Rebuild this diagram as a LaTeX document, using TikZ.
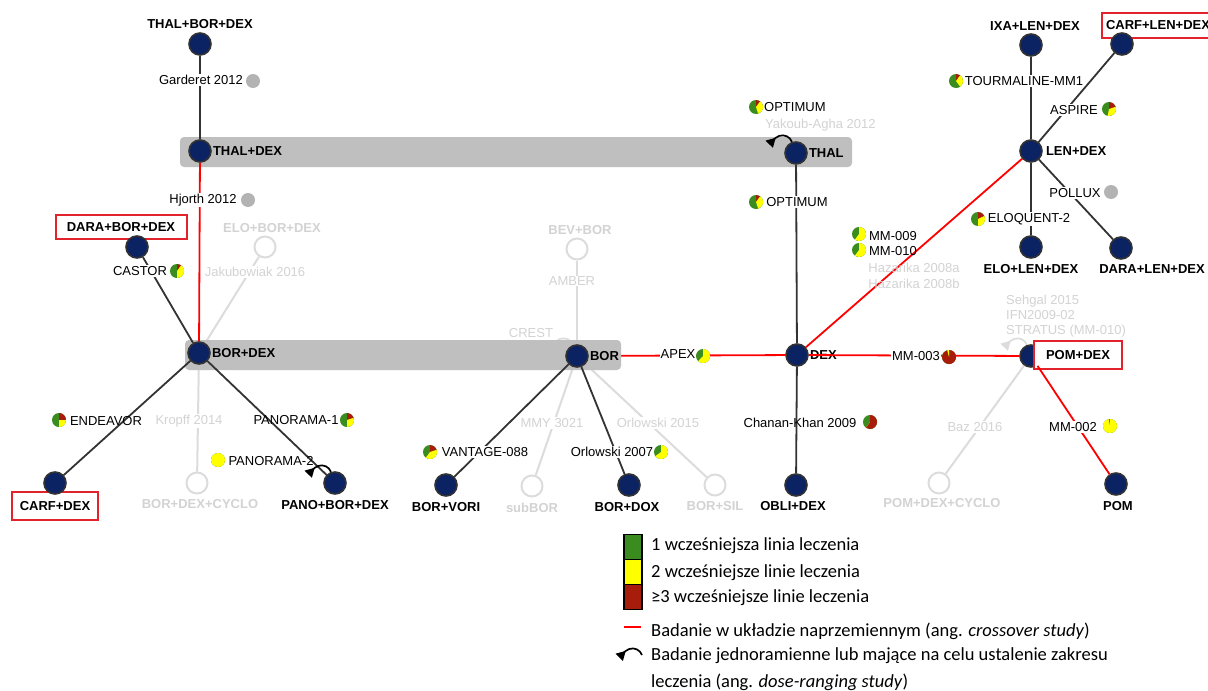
\documentclass[tikz,border=0pt]{standalone}
\usepackage{fontspec}
\setmainfont{Liberation Sans}
\newfontfamily\legendfont{Carlito}
\usetikzlibrary{arrows.meta,positioning,backgrounds}
\definecolor{lvNavy}{HTML}{0B2263}
\definecolor{lvEdge}{HTML}{333333}
\definecolor{lvRed}{HTML}{FF0000}
\definecolor{lvFaint}{HTML}{DCDCDC}
\definecolor{lvFaintText}{HTML}{D3D3D3}
\definecolor{lvBand}{HTML}{BFBFBF}
\definecolor{lvBox}{HTML}{E3232B}
\definecolor{lvGreen}{HTML}{3A8C1E}
\definecolor{lvYellow}{HTML}{FFFF00}
\definecolor{lvDarkRed}{HTML}{A81C0C}
\definecolor{lvDotGray}{HTML}{B3B3B3}
\tikzset{
    regimen/.style={
        circle,
        draw=lvEdge,
        fill=lvNavy,
        line width=1.6pt,
        minimum size=22pt,
        inner sep=0pt
    },
    faintregimen/.style={
        circle,
        draw=lvFaint,
        fill=white,
        line width=2pt,
        minimum size=21pt,
        inner sep=0pt
    },
    reglabel/.style={
        font=\bfseries\fontsize{13}{15}\selectfont,
        inner sep=1pt
    },
    faintlabel/.style={
        reglabel,
        text=lvFaintText
    },
    redbox/.style={
        reglabel,
        draw=lvBox,
        fill=white,
        line width=2pt
    },
    trial/.style={
        font=\fontsize{13}{15}\selectfont,
        fill=white,
        inner sep=1pt
    },
    fainttrial/.style={
        trial,
        text=lvFaintText
    },
    link/.style={
        draw=lvEdge,
        line width=1.8pt
    },
    crosslink/.style={
        draw=lvRed,
        line width=1.8pt
    },
    faintlink/.style={
        draw=lvFaint,
        line width=2pt
    },
    band/.style={
        fill=lvBand,
        rounded corners=4pt
    },
    selfloop/.style={
        -{Triangle[length=9pt,width=10pt]},
        line width=1.7pt
    },
    legendsq/.style={
        draw=black,
        line width=1.5pt,
        minimum width=18pt,
        minimum height=25pt,
        inner sep=0pt
    },
    legendtext/.style={
        font=\legendfont\fontsize{18.5}{27}\selectfont,
        anchor=west,
        inner sep=0pt,
        align=left
    }
}
% study pie: centre, share of >=3 lines (red), share of 2 lines (yellow), rest green
\newcommand{\studypie}[3]{%
    \fill[lvGreen] (#1) circle[radius=7pt];
    \fill[lvDarkRed] (#1) -- ++(90:7pt) arc[start angle=90, delta angle={-360*#2}, radius=7pt] -- cycle;
    \fill[lvYellow] (#1) -- ++({90-360*#2}:7pt) arc[start angle={90-360*#2}, delta angle={-360*#3}, radius=7pt] -- cycle;
}
% single-arm / dose-ranging loop on a regimen
\newcommand{\doseloop}[2][black]{%
    \draw[selfloop, #1] (#2.110) arc[start angle=20, delta angle=175, radius=10pt];
}

\begin{document}
\begin{tikzpicture}[x=1pt, y=-1pt]
    \useasboundingbox (0,0) rectangle (1208,691);

    % Boxed regimen names (behind the dots)
    \node[redbox, minimum width=131pt, minimum height=24pt] (darabordexname) at (121,227) {DARA+BOR+DEX};
    \node[redbox, anchor=west, inner xsep=4pt, minimum height=25pt] (carflendexname) at (1101,25.5) {CARF+LEN+DEX};
    \node[redbox, minimum width=86pt, minimum height=28pt] (carfdexname) at (55,506) {CARF+DEX};

    % Regimens
    \node[regimen, label={[reglabel,yshift=2pt]above:THAL+BOR+DEX}] (thalbordex) at (200,44) {};
    \node[regimen, label={[reglabel]right:THAL+DEX}] (thaldex) at (200,151) {};
    \node[regimen, label={[reglabel]right:THAL}] (thal) at (796,153) {};
    \node[regimen] (darabordex) at (137,247) {};
    \node[faintregimen, label={[faintlabel,xshift=7pt,yshift=2pt]above:ELO+BOR+DEX}] (elobordex) at (265,247) {};
    \node[regimen, label={[reglabel]right:BOR+DEX}] (bordex) at (199,353) {};
    \node[regimen] (carfdex) at (55,483) {};
    \node[faintregimen, label={[faintlabel,xshift=3pt,yshift=-4pt]below:BOR+DEX+CYCLO}] (bordexcyclo) at (197,483) {};
    \node[regimen, label={[reglabel,yshift=-4pt]below:PANO+BOR+DEX}] (panobordex) at (335,483) {};
    \node[regimen, label={[reglabel]right:BOR}] (bor) at (577,356) {};
    \node[faintregimen, label={[faintlabel,xshift=3pt,yshift=2pt]above:BEV+BOR}] (bevbor) at (577,249) {};
    \node[regimen, label={[reglabel,yshift=-4pt]below:BOR+VORI}] (borvori) at (446,485) {};
    \node[faintregimen, label={[faintlabel,yshift=-4pt]below:subBOR}] (subbor) at (532,486) {};
    \node[regimen, label={[reglabel,xshift=-2pt,yshift=-4pt]below:BOR+DOX}] (bordox) at (629,485) {};
    \node[faintregimen, label={[faintlabel,yshift=-4pt]below:BOR+SIL}] (borsil) at (715,485) {};
    \node[regimen, label={[reglabel,fill=white]right:DEX}] (dex) at (797,355) {};
    \node[regimen, label={[reglabel,xshift=-3pt,yshift=-3pt]below:OBLI+DEX}] (oblidex) at (796,485) {};
    \node[regimen, label={[reglabel,xshift=2pt]right:LEN+DEX}] (lendex) at (1031,151) {};
    \node[regimen, label={[reglabel,xshift=4pt,yshift=2pt]above:IXA+LEN+DEX}] (ixalendex) at (1031,45) {};
    \node[regimen] (carflendex) at (1122,44) {};
    \node[regimen, label={[reglabel,yshift=-4pt]below:ELO+LEN+DEX}] (elolendex) at (1031,247) {};
    \node[regimen, label={[reglabel,xshift=31pt,yshift=-4pt]below:DARA+LEN+DEX}] (daralendex) at (1121,248) {};
    \node[regimen] (pomdex) at (1031,356) {};
    \node[regimen, label={[reglabel,xshift=2pt,yshift=-4pt]below:POM}] (pom) at (1116,484) {};
    \node[faintregimen, label={[faintlabel,xshift=3pt,yshift=-3pt]below:POM+DEX+CYCLO}] (pomdexcyclo) at (939,483) {};
    \node[redbox, minimum width=88pt, minimum height=28pt] (pomdexname) at (1078,355) {POM+DEX};

    % Faint studies and the grey bands
    \begin{scope}[on background layer]
        \fill[white] (0,0) rectangle (1208,691);
        \draw[faintlink] (elobordex) -- (bordex);
        \draw[faintlink] (bordex) -- (bordexcyclo);
        \draw[faintlink] (bevbor) -- (bor);
        \draw[faintlink] (bor) -- (subbor);
        \draw[faintlink] (bor) -- (borsil);
        \draw[faintlink] (pomdex) -- (pomdexcyclo);
        \doseloop[lvFaint]{bor}
        \doseloop[lvFaint]{pomdex}
        \draw[crosslink] (bor) -- (dex);
        \fill[band] (180,137) rectangle (852,167);
        \fill[band] (185,340) rectangle (621,370);
    \end{scope}

    % Studies
    \draw[link] (thalbordex) -- (thaldex);
    \draw[crosslink] (thaldex) -- (bordex);
    \draw[link] (darabordex) -- (bordex);
    \draw[link] (bordex) -- (carfdex);
    \draw[link] (bordex) -- (panobordex);
    \draw[link] (bor) -- (borvori);
    \draw[link] (bor) -- (bordox);
    \draw[link] (thal) -- (dex);
    \draw[link] (dex) -- (oblidex);
    \draw[crosslink] (dex) -- (lendex);
    \draw[crosslink] (dex) -- (pomdex);
    \draw[crosslink] (pomdex) -- (pom);
    \draw[link] (lendex) -- (ixalendex);
    \draw[link] (lendex) -- (carflendex);
    \draw[link] (lendex) -- (elolendex);
    \draw[link] (lendex) -- (daralendex);
    \doseloop{thal}
    \doseloop{panobordex}

    % Study names
    \node[trial] (garderet) at (201,80) {Garderet 2012};
    \node[trial] (hjorth) at (203,200) {Hjorth 2012};
    \node[trial] (castor) at (140,271) {CASTOR};
    \node[trial, fill=none] (endeavor) at (106,421) {ENDEAVOR};
    \node[trial, fill=none] (panorama1) at (296,420) {PANORAMA-1};
    \node[trial, fill=none] (panorama2) at (271,461) {PANORAMA-2};
    \node[trial] (vantage) at (485,452) {VANTAGE-088};
    \node[trial] (orlowski07) at (612,452) {Orlowski 2007};
    \node[trial] (apex) at (678,354) {APEX};
    \node[trial] (optimum) at (797,202) {OPTIMUM};
    \node[trial, fill=none, anchor=west] (optimumloop) at (763,107) {OPTIMUM};
    \node[trial, fill=none] (chanankhan) at (800,423) {Chanan-Khan 2009};
    \node[trial, fill=none] (mm009) at (893,236) {MM-009};
    \node[trial, fill=none] (mm010) at (893,251) {MM-010};
    \node[trial] (mm003) at (916,356) {MM-003};
    \node[trial] (mm002) at (1073,427) {MM-002};
    \node[trial] (tourmaline) at (1024,81) {TOURMALINE-MM1};
    \node[trial] (aspire) at (1074,110) {ASPIRE};
    \node[trial] (pollux) at (1075,193) {POLLUX};
    \node[trial] (eloquent) at (1029,219) {ELOQUENT-2};
    \node[fainttrial] (jakubowiak) at (255,272) {Jakubowiak 2016};
    \node[fainttrial] (kropff) at (189,421) {Kropff 2014};
    \node[fainttrial] (amber) at (572,281) {AMBER};
    \node[fainttrial, fill=none] (crest) at (531,333) {CREST};
    \node[fainttrial] (mmy3021) at (552,423) {MMY 3021};
    \node[fainttrial] (orlowski15) at (658,423) {Orlowski 2015};
    \node[fainttrial, fill=none, anchor=west] (yakoub) at (764,125) {Yakoub-Agha 2012};
    \node[fainttrial, fill=none] (hazarikaA) at (914,268) {Hazarika 2008a};
    \node[fainttrial, fill=none] (hazarikaB) at (914,284) {Hazarika 2008b};
    \node[fainttrial, fill=none, anchor=west, align=left, font=\fontsize{13}{15}\selectfont] (sehgal) at (1005,316) {Sehgal 2015\\IFN2009-02\\STRATUS (MM-010)};
    \node[fainttrial] (baz) at (975,427) {Baz 2016};

    % Prior lines of treatment
    \fill[lvDotGray] (253,81) circle[radius=7pt];
    \fill[lvDotGray] (248,200) circle[radius=7pt];
    \fill[lvDotGray] (1111,192) circle[radius=7pt];
    \studypie{177,271}{0.1}{0.4}
    \studypie{59,420}{0.25}{0.25}
    \studypie{347,420}{0.2}{0.3}
    \studypie{218,460}{0}{1}
    \studypie{430,452}{0.2}{0.4}
    \studypie{661,452}{0}{0.65}
    \studypie{703,356}{0}{0.62}
    \studypie{756,202}{0.1}{0.35}
    \studypie{756,107}{0.1}{0.35}
    \studypie{870,422}{0.6}{0}
    \studypie{859,234}{0}{0.6}
    \studypie{859,250}{0}{0.6}
    \studypie{949,357}{0.96}{0.04}
    \studypie{1110,426}{0}{0.97}
    \studypie{956,81}{0.1}{0.3}
    \studypie{1109,109}{0.2}{0.33}
    \studypie{978,219}{0.18}{0.32}

    % Legend
    \node[legendsq, fill=lvGreen] (lgGreen) at (633,547) {};
    \node[legendsq, fill=lvYellow] (lgYellow) at (633,572) {};
    \node[legendsq, fill=lvDarkRed] (lgRed) at (633,597) {};
    \node[legendtext] (lgline1) at (651,546) {1 wcześniejsza linia leczenia};
    \node[legendtext] (lgline2) at (651,573) {2 wcześniejsze linie leczenia};
    \node[legendtext] (lgline3) at (651,598) {≥3 wcześniejsze linie leczenia};
    \coordinate (lgcrossA) at (624,627);
    \coordinate (lgcrossB) at (641,627);
    \draw[crosslink] (lgcrossA) -- (lgcrossB);
    \node[legendtext] (lgline4) at (651,631) {Badanie w układzie naprzemiennym (ang. \textit{crossover study})};
    \coordinate (lgloop) at (642,655);
    \draw[selfloop] (lgloop) arc[start angle=20, delta angle=175, radius=10pt];
    \node[legendtext] (lgline5) at (651,669) {Badanie jednoramienne lub mające na celu ustalenie zakresu\\leczenia (ang. \textit{dose-ranging study})};
\end{tikzpicture}
\end{document}
